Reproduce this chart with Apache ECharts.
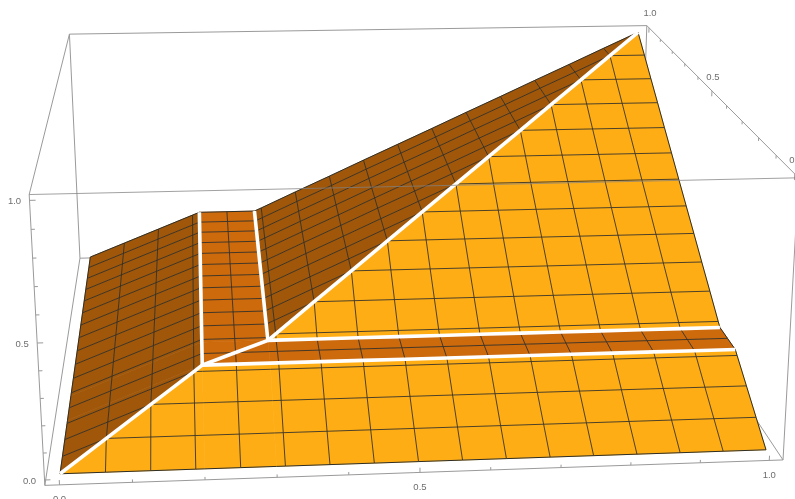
<!DOCTYPE html>
<html>
<head>
<meta charset="utf-8">
<style>html,body{margin:0;padding:0;background:#fff;overflow:hidden}#chart{width:795px;height:499px}</style>
<script src="https://cdn.jsdelivr.net/npm/echarts@6/dist/echarts.min.js"></script>
</head>
<body>
<div id="chart"></div>
<script>
// Surface: height depends on min(x, y). Levels are the mesh values plus the two kinks.
const levels  = [0,0.0625,0.125,0.1875,0.2,0.25,0.3,0.3125,0.375,0.4375,0.5,0.5625,0.625,0.6875,0.75,0.8125,0.875,0.9375,1];
const heights = [0,0.0625,0.125,0.1875,0.2,0.2,0.2,0.214,0.286,0.357,0.429,0.5,0.571,0.643,0.714,0.786,0.857,0.929,1];
const meshValues = [0.0625,0.125,0.1875,0.25,0.3125,0.375,0.4375,0.5,0.5625,0.625,0.6875,0.75,0.8125,0.875,0.9375];
const kinks = [0.2,0.3];
const tickValues = [0,0.1,0.2,0.3,0.4,0.5,0.6,0.7,0.8,0.9,1];
const tickLabels = ['0.0','0.5','1.0'];

const colYellow = '#FFAD14', colOrange = '#CC6A0C', colBrown = '#A0570A';
const colMesh = 'rgba(45,45,40,0.85)', colEdge = '#2e2e26', colBox = '#9a9a9a', colText = '#6e6e6e';

// Camera calibration: box and surface corners [x,y,z] -> window pixel
const p0 = -0.02, p1 = 1.02;
const calib = [
  [p0,p0,p0,43,485.5],[p1,p0,p0,783,460.5],[p0,p0,p1,29,195],[p1,p0,p1,798.5,178],
  [p0,p1,p1,69,35],[p1,p1,p1,647,25],[p0,p1,p0,80,258],
  [0,0,0,60,473],[1,0,0,766,451],[1,1,1,638,32],[0,1,0,90,258],
  [0.2,0.2,0.2,203,365],[0.3,0.3,0.2,271,338],[1,0.2,0.2,736,350],[1,0.3,0.2,718,327]
];
function solveCamera(rows){
  const n=11, A=[...Array(n)].map(()=>Array(n+1).fill(0));
  const add=(r,b)=>{for(let i=0;i<n;i++){for(let j=0;j<n;j++)A[i][j]+=r[i]*r[j];A[i][n]+=r[i]*b;}};
  rows.forEach(([X,Y,Z,u,v])=>{
    add([X,Y,Z,1,0,0,0,0,-u*X,-u*Y,-u*Z],u);
    add([0,0,0,0,X,Y,Z,1,-v*X,-v*Y,-v*Z],v);
  });
  for(let c=0;c<n;c++){
    let m=c;for(let r=c+1;r<n;r++)if(Math.abs(A[r][c])>Math.abs(A[m][c]))m=r;
    [A[c],A[m]]=[A[m],A[c]];
    for(let r=0;r<n;r++){if(r===c)continue;const f=A[r][c]/A[c][c];for(let k=c;k<=n;k++)A[r][k]-=f*A[c][k];}
  }
  return A.map((row,i)=>row[n]/row[i]);
}
const cam = solveCamera(calib);
function project(x,y,z){
  const w=cam[8]*x+cam[9]*y+cam[10]*z+1;
  return [(cam[0]*x+cam[1]*y+cam[2]*z+cam[3])/w,(cam[4]*x+cam[5]*y+cam[6]*z+cam[7])/w];
}
function g(t){
  for(let i=1;i<levels.length;i++){
    if(t<=levels[i]){const a=levels[i-1],b=levels[i];return heights[i-1]+(heights[i]-heights[i-1])*(t-a)/(b-a);}
  }
  return 1;
}
const surf=(x,y)=>[x,y,g(Math.min(x,y))];

// Build marks
function bandColor(t,isLower){
  if(t>=kinks[0]&&t<kinks[1]) return colOrange;
  return isLower?colYellow:colBrown;
}
const polys=[];
for(let i=0;i<levels.length-1;i++){
  for(let j=0;j<levels.length-1;j++){
    const x0=levels[i],x1=levels[i+1],y0=levels[j],y1=levels[j+1];
    if(i===j){
      polys.push({pts:[surf(x0,y0),surf(x1,y0),surf(x1,y1)],color:bandColor(y0,true)});
      polys.push({pts:[surf(x0,y0),surf(x0,y1),surf(x1,y1)],color:bandColor(x0,false)});
    }else{
      const lower=i>j;
      polys.push({pts:[surf(x0,y0),surf(x1,y0),surf(x1,y1),surf(x0,y1)],color:bandColor(lower?y0:x0,lower)});
    }
  }
}
const meshLines=[];
meshValues.forEach(v=>{
  meshLines.push(levels.map(t=>surf(t,v)));
  meshLines.push(levels.map(t=>surf(v,t)));
});
const edges=[
  levels.map(t=>surf(t,0)),levels.map(t=>surf(t,1)),
  levels.map(t=>surf(0,t)),levels.map(t=>surf(1,t))
];
const upTo=(a)=>levels.filter(t=>t>=a);
const whiteLines=[levels.map(t=>surf(t,t))];
kinks.forEach(k=>{
  whiteLines.push(upTo(k).map(t=>surf(t,k)));
  whiteLines.push(upTo(k).map(t=>surf(k,t)));
});
const C=(x,y,z)=>[x,y,z];
const backEdges=[
  [C(p0,p1,p1),C(p1,p1,p1)],[C(p0,p1,p1),C(p0,p1,p0)],[C(p1,p1,p1),C(p1,p1,p0)],
  [C(p0,p1,p0),C(p1,p1,p0)],[C(p0,p1,p0),C(p0,p0,p0)],[C(p1,p1,p0),C(p1,p0,p0)],
  [C(p0,p0,p0),C(p0,p0,p1)],[C(p1,p0,p0),C(p1,p0,p1)],
  [C(p0,p0,p0),C(p1,p0,p0)],[C(p0,p0,p1),C(p0,p1,p1)],[C(p1,p1,p1),C(p1,p0,p1)]
];
const frontEdges=[[C(p0,p0,p1),C(p1,p0,p1)]];
const ticks=[];
tickValues.forEach((t,idx)=>{
  const major=idx%5===0;
  ticks.push([C(t,p0,p0),C(t,p0,p0+(major?0.018:0.011))]);
  ticks.push([C(p0,p0,t),C(p0+(major?0.008:0.005),p0,t)]);
  ticks.push([C(p1,t,p1),C(p1,t,p1-(major?0.022:0.012))]);
});
const labels=[];
tickLabels.forEach(s=>{
  const t=parseFloat(s);
  const a=project(t,p0,p0), b=project(p0,p0,t), c=project(p1,t,p1);
  labels.push({text:s,px:[a[0],a[1]+15]});
  labels.push({text:s,px:[b[0]-15,b[1]+1]});
  labels.push({text:s,px:[c[0]+1,c[1]-14]});
});

const hidden={show:false};
function pts(api,list){return list.map(p=>{const q=project(p[0],p[1],p[2]);return api.coord(q);});}
function lineSeries(name,list,stroke,width,z){
  return {type:'custom',name,coordinateSystem:'cartesian2d',silent:true,clip:false,z,
    data:list.map((_,i)=>[i]),
    renderItem:(params,api)=>({type:'polyline',shape:{points:pts(api,list[params.dataIndex])},
      style:{stroke,lineWidth:width,fill:null,lineJoin:'miter'}})};
}
const option={
  animation:false,
  backgroundColor:'#fff',
  grid:{left:0,right:0,top:0,bottom:0},
  xAxis:{type:'value',min:0,max:795,...hidden},
  yAxis:{type:'value',min:0,max:499,inverse:true,...hidden},
  tooltip:{show:false},
  series:[
    lineSeries('box back',backEdges,colBox,1,1),
    lineSeries('ticks',ticks,colBox,1,1),
    {type:'custom',name:'surface',coordinateSystem:'cartesian2d',silent:true,clip:false,z:2,
      data:polys.map((_,i)=>[i]),
      renderItem:(params,api)=>{const c=polys[params.dataIndex];
        return {type:'polygon',shape:{points:pts(api,c.pts)},style:{fill:c.color,stroke:c.color,lineWidth:0.6}};}},
    lineSeries('mesh',meshLines,colMesh,1,3),
    lineSeries('edges',edges,colEdge,1,4),
    lineSeries('creases',whiteLines,'#ffffff',3.6,5),
    lineSeries('box front',frontEdges,'rgba(130,130,130,0.75)',1,6),
    {type:'custom',name:'labels',coordinateSystem:'cartesian2d',silent:true,clip:false,z:7,
      data:labels.map((_,i)=>[i]),
      renderItem:(params,api)=>{const l=labels[params.dataIndex],q=api.coord(l.px);
        return {type:'text',style:{text:l.text,x:q[0],y:q[1],fill:colText,font:'9.5px "Liberation Sans"',align:'center',verticalAlign:'middle'}};}}
  ]
};
const chart=echarts.init(document.getElementById('chart'),null,{renderer:'canvas',width:795,height:499});
chart.setOption(option);
</script>
</body>
</html>
